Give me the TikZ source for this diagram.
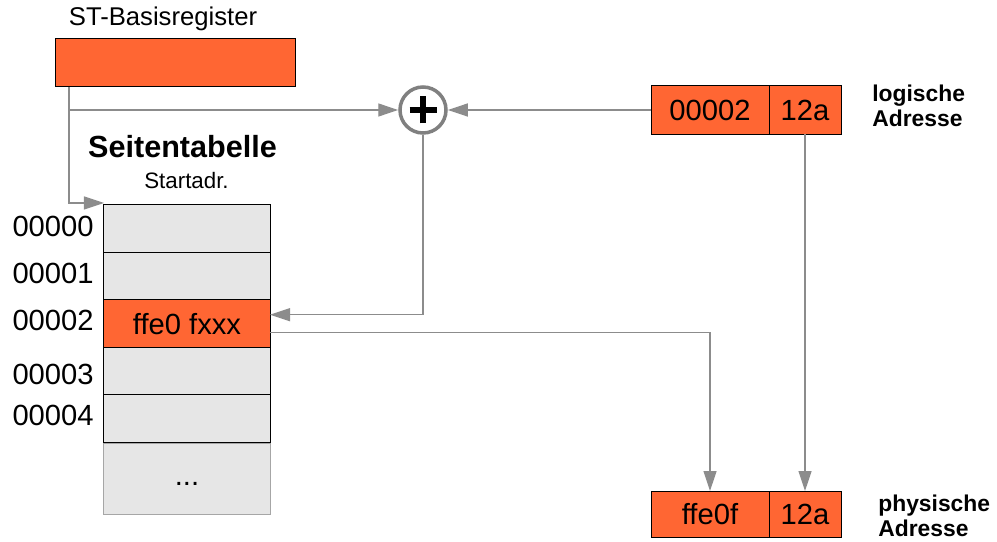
\documentclass[tikz,border=0pt]{standalone}
\usepackage{fontspec}
\setmainfont{Liberation Sans}
\usetikzlibrary{arrows.meta,positioning}

\definecolor{orng}{RGB}{255,102,51}
\definecolor{cellgray}{RGB}{230,230,230}
\definecolor{linegray}{RGB}{140,140,140}

\tikzset{
  box/.style={draw=black, line width=0.2mm, fill=orng, inner sep=0pt, outer sep=0pt,
              minimum height=9.6mm, font=\fontsize{16.6}{19}\selectfont},
  cell/.style={draw=black, line width=0.2mm, fill=cellgray, inner sep=0pt, outer sep=0pt,
               minimum width=33.2mm, minimum height=9.5mm, font=\fontsize{16.6}{19}\selectfont},
  conn/.style={draw=linegray, line width=0.25mm},
  arr/.style={conn, -{Triangle[length=4mm,width=2.6mm]}},
  lbl/.style={font=\fontsize{16.6}{19}\selectfont, inner sep=0pt},
  caption/.style={font=\bfseries\fontsize{13}{14.6}\selectfont, align=left, inner sep=0pt}
}

\begin{document}
\begin{tikzpicture}[x=0.2mm,y=-0.2mm]
    \useasboundingbox (0,0) rectangle (997,542);

    % ST base register
    \node[inner sep=0pt, anchor=base, font=\fontsize{14.6}{17}\selectfont] (regname) at (163,26) {ST-Basisregister};
    \node[box, minimum width=47.8mm] (reg) at (175.5,63) {};

    % page table
    \node[inner sep=0pt, anchor=base, font=\bfseries\fontsize{17.4}{20}\selectfont] (tabname) at (182.5,157) {Seitentabelle};
    \node[inner sep=0pt, anchor=base, font=\fontsize{12.7}{15}\selectfont] (start) at (186.5,189) {Startadr.};
    \node[cell, draw=gray!70, minimum height=14.2mm] (t5) at (187,478.5) {};
    \foreach \i in {0,1,3,4}
        \node[cell] (t\i) at (187,{228.7+47.5*\i}) {};
    \node[cell, fill=orng] (t2) at (187,323.7) {ffe0 fxxx};
    \node[lbl] (dots) at (187,484) {...};
    \foreach \i/\y in {0/226,1/273,2/320,3/374,4/415}
        \node[lbl, anchor=east] (n\i) at (94,\y) {0000\i};

    % adder
    \node[circle, draw=gray, line width=0.7mm, fill=white, minimum size=9.2mm, inner sep=0pt] (plus) at (423,110) {};
    \draw[line width=1.3mm] (plus.center) +(-2.7mm,0) -- +(2.7mm,0)
                                          +(0,-2.7mm) -- +(0,2.7mm);

    % logical address
    \node[box, minimum width=23.6mm] (la) at (710,110) {00002};
    \node[box, minimum width=14.4mm, right=0pt of la] (lb) {12a};
    \node[caption, anchor=west] (logcap) at (872,106) {logische\\Adresse};

    % physical address
    \node[box, minimum width=23.6mm, minimum height=9.2mm] (pa) at (710,514) {ffe0f};
    \node[box, minimum width=14.4mm, minimum height=9.2mm, right=0pt of pa] (pb) {12a};
    \node[caption, anchor=west] (phycap) at (878,516) {physische\\Adresse};

    % connectors
    \coordinate (tap) at ([xshift=2.6mm]reg.south west);
    \draw[arr] (tap) |- ([yshift=0.4mm]t0.north west);
    \draw[arr] (tap |- plus) -- (plus);
    \draw[arr] (la) -- (plus);
    \draw[arr] (plus) |- ([yshift=1.8mm]t2.east);
    \draw[arr] ([yshift=-1.8mm]t2.east) -| (pa);
    \draw[arr] (lb) -- (pb);
\end{tikzpicture}
\end{document}
